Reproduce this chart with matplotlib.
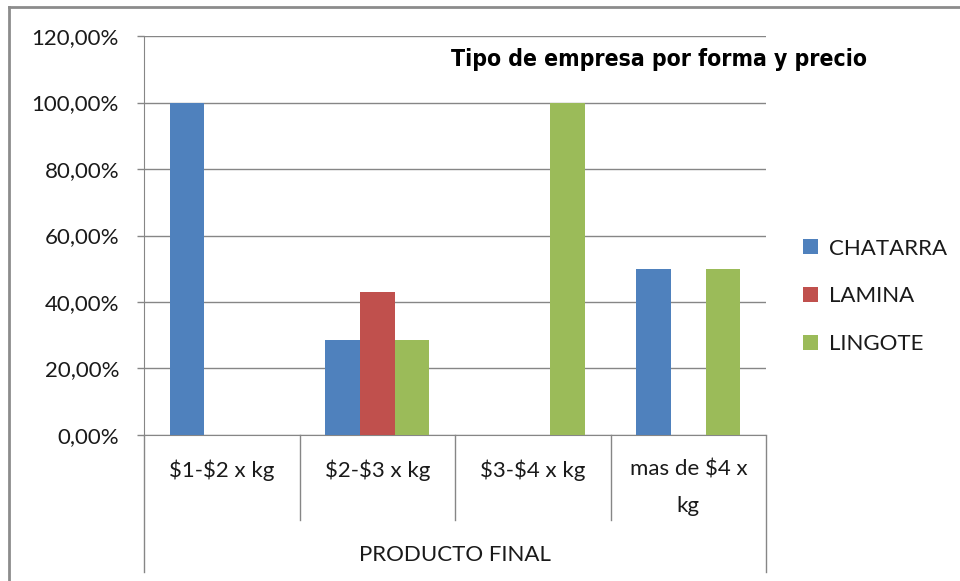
import matplotlib.pyplot as plt
import matplotlib.transforms as mtransforms
from matplotlib.lines import Line2D
import numpy as np

categories = [r'\$1-\$2 x kg', r'\$2-\$3 x kg', r'\$3-\$4 x kg', 'mas de \\$4 x\nkg']
series_names = ['CHATARRA', 'LAMINA', 'LINGOTE']
chatarra = [1.0, 0.2857, 0.0, 0.5]
lamina = [0.0, 0.4286, 0.0, 0.0]
lingote = [0.0, 0.2857, 1.0, 0.5]
y_ticks = [0.0, 0.2, 0.4, 0.6, 0.8, 1.0, 1.2]
group_label = 'PRODUCTO FINAL'
title = 'Tipo de empresa por forma y precio'

colors = ['#4F81BD', '#C0504D', '#9BBB59']
grid_c = '#868686'
font = ['Lato', 'DejaVu Sans']

fig = plt.figure(figsize=(9.6, 5.81), dpi=100)
ax = fig.add_axes([0.15, 0.2513, 0.648, 0.6867])

x = np.arange(len(categories))
w = 1 / 4.5
for i, vals in enumerate([chatarra, lamina, lingote]):
    ax.bar(x + (i - 1) * w, vals, width=w, color=colors[i], label=series_names[i],
           edgecolor='none', zorder=3)

ax.set_xlim(-0.5, len(categories) - 0.5)
ax.set_ylim(0, 1.2)
ax.set_yticks(y_ticks)
ax.set_yticklabels([('%.2f%%' % (v * 100)).replace('.', ',') for v in y_ticks],
                   fontsize=16, family=font, color='#1a1a1a')
ax.tick_params(axis='y', length=5, width=1, color=grid_c, pad=13)
ax.set_xticks(x)
ax.set_xticklabels(categories, fontsize=16, family=font, color='#1a1a1a',
                   linespacing=2.0)
ax.tick_params(axis='x', length=0, pad=18)
ax.grid(axis='y', color=grid_c, linewidth=1, zorder=0)

for s in ['top', 'right']:
    ax.spines[s].set_visible(False)
ax.spines['left'].set_color(grid_c)
ax.spines['bottom'].set_color(grid_c)

# category dividers and outer group lines below the axis
trans = mtransforms.blended_transform_factory(ax.transData, ax.transAxes)
for xd in x[1:] - 0.5:
    ax.add_line(Line2D([xd, xd], [0, -0.213], transform=trans, color=grid_c,
                       linewidth=1, clip_on=False))
for xd in [-0.5, len(categories) - 0.5]:
    ax.add_line(Line2D([xd, xd], [0, -0.343], transform=trans, color=grid_c,
                       linewidth=1, clip_on=False))
ax.text((len(categories) - 1) / 2, -0.3, group_label, transform=trans,
        ha='center', va='center', fontsize=16, family=font, color='#1a1a1a')

fig.text(0.686, 0.897, title, ha='center', va='center', fontsize=16.5,
         fontweight='bold', fontstretch='condensed', family=['DejaVu Sans'],
         color='black')

leg = ax.legend(loc='center left', bbox_to_anchor=(0.816, 0.49),
                bbox_transform=fig.transFigure, frameon=False, prop={'family': font, 'size': 16},
                handlelength=0.65, handleheight=0.65, handletextpad=0.5, labelspacing=1.25)
for t in leg.get_texts():
    t.set_color('#1a1a1a')

# chart frame (top and left visible)
fig.add_artist(Line2D([9 / 960, 1], [1 - 7 / 581, 1 - 7 / 581], transform=fig.transFigure,
                      color='#8c8c8c', linewidth=2))
fig.add_artist(Line2D([9 / 960, 9 / 960], [0, 1 - 7 / 581], transform=fig.transFigure,
                      color='#8c8c8c', linewidth=2))

fig.savefig('out.png', dpi=100)
